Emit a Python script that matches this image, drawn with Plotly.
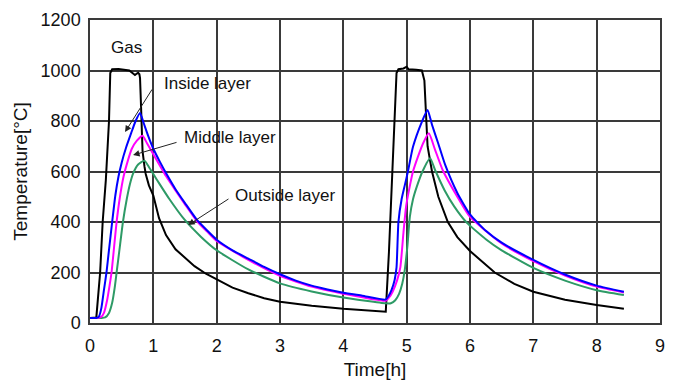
import plotly.graph_objects as go

# ---- data ----
gas_t = [0, 0.1, 0.16, 0.2, 0.25, 0.3, 0.32, 0.35, 0.45, 0.55, 0.62, 0.67, 0.71, 0.74, 0.76, 0.78,
         0.79, 0.8, 0.81, 0.83, 0.86, 0.88, 0.93, 1.0, 1.09, 1.2, 1.35, 1.5, 1.65, 1.83, 2.0, 2.25,
         2.5, 2.75, 3.0, 3.5, 4.0, 4.3, 4.67,
         4.72, 4.76, 4.8, 4.84, 4.87, 4.95, 5.0, 5.03, 5.15, 5.24, 5.28, 5.3, 5.33, 5.4, 5.5, 5.65,
         5.8, 6.0, 6.2, 6.39, 6.7, 7.0, 7.5, 8.0, 8.43]
gas_v = [20, 22, 200, 400, 566, 800, 990, 1005, 1006, 1003, 1000, 990, 982, 988, 991, 985,
         970, 900, 780, 680, 620, 590, 545, 505, 415, 348, 292, 258, 225, 195, 172, 140,
         118, 98, 84, 68, 56, 50, 45,
         280, 500, 760, 990, 1005, 1008, 1015, 1005, 1003, 1000, 960, 850, 700, 600, 500, 400,
         340, 285, 240, 200, 155, 124, 92, 71, 56]

inside_t = [0, 0.1, 0.14, 0.18, 0.22, 0.26, 0.3, 0.35, 0.4, 0.45, 0.5, 0.57, 0.65, 0.72, 0.79,
            0.85, 0.92, 1.0, 1.1, 1.22, 1.35, 1.5, 1.69, 1.85, 2.0, 2.25, 2.5, 2.75, 3.0, 3.25,
            3.5, 3.75, 4.0, 4.3, 4.67,
            4.71, 4.76, 4.81, 4.84, 4.87, 4.92, 4.97, 5.02, 5.1, 5.24, 5.33,
            5.4, 5.5, 5.61, 5.8, 6.0, 6.25, 6.5, 7.0, 7.5, 8.0, 8.43]
inside_v = [20, 20, 25, 60, 130, 200, 290, 400, 505, 580, 635, 695, 752, 800, 832,
            790, 740, 690, 640, 585, 530, 475, 408, 366, 330, 288, 255, 222, 193, 168,
            148, 133, 120, 108, 93,
            105, 130, 170, 220, 400, 490, 545, 600, 698, 797, 844,
            785, 710, 625, 515, 430, 365, 318, 250, 192, 148, 124]

middle_t = [0, 0.12, 0.18, 0.22, 0.27, 0.31, 0.34, 0.38, 0.42, 0.47, 0.53, 0.6, 0.66, 0.74, 0.83,
            0.9, 1.0, 1.1, 1.2, 1.35, 1.5, 1.69, 1.85, 2.0, 2.5, 3.0, 3.5, 4.0, 4.67,
            4.72, 4.78, 4.85, 4.9, 4.95, 4.99, 5.04, 5.1, 5.18, 5.26, 5.35,
            5.45, 5.57, 5.8, 6.0, 6.5, 7.0, 7.5, 8.0, 8.43]
middle_v = [20, 20, 25, 40, 90, 150, 200, 300, 400, 495, 580, 645, 690, 722, 742,
            712, 668, 625, 582, 525, 470, 403, 362, 325, 250, 187, 144, 116, 88,
            100, 125, 170, 220, 360, 460, 530, 600, 660, 712, 751,
            685, 605, 500, 420, 315, 245, 188, 144, 121]

outside_t = [0, 0.18, 0.24, 0.3, 0.35, 0.39, 0.42, 0.47, 0.52, 0.58, 0.63, 0.68, 0.76, 0.86,
             0.93, 1.0, 1.1, 1.25, 1.49, 1.75, 2.0, 2.5, 3.0, 3.5, 4.0, 4.67,
             4.75, 4.82, 4.88, 4.93, 4.97, 5.01, 5.05, 5.1, 5.16, 5.25, 5.37,
             5.45, 5.6, 5.75, 5.94, 6.25, 6.5, 7.0, 7.5, 8.0, 8.43]
outside_v = [20, 20, 22, 40, 80, 140, 200, 300, 400, 490, 550, 592, 628, 643,
             618, 590, 550, 492, 410, 342, 288, 212, 157, 125, 101, 78,
             78, 90, 115, 155, 210, 300, 420, 490, 540, 600, 652,
             605, 525, 462, 400, 332, 288, 218, 168, 130, 111]

x_ticks = [0, 1, 2, 3, 4, 5, 6, 7, 8, 9]
y_ticks = [0, 200, 400, 600, 800, 1000, 1200]

series = [
    ("Gas", gas_t, gas_v, "#000000", "linear"),
    ("Outside layer", outside_t, outside_v, "#2e9a66", "spline"),
    ("Middle layer", middle_t, middle_v, "#ff00ff", "spline"),
    ("Inside layer", inside_t, inside_v, "#0000ff", "spline"),
]

fig = go.Figure()
for name, t, v, c, shape in series:
    fig.add_trace(go.Scatter(x=t, y=v, mode="lines", name=name,
                             line=dict(color=c, width=2, shape=shape, smoothing=0.5),
                             showlegend=False))

font = "Liberation Sans, Arial, sans-serif"
grid = "#3a3a3a"

# text labels
labels = [("Gas", 0.58, 1093, "center"),
          ("Inside layer", 1.137, 950, "left"),
          ("Middle layer", 1.45, 733, "left"),
          ("Outside layer", 2.26, 504, "left")]
for txt, x, y, anchor in labels:
    fig.add_annotation(x=x, y=y, text=txt, showarrow=False, xanchor=anchor,
                       yanchor="middle", font=dict(size=17, color="#111", family=font))

# arrows (head, tail)
arrows = [((0.553, 756), (0.995, 931)),
          ((0.68, 665), (1.39, 717)),
          ((1.55, 388), (2.21, 495))]
for (hx, hy), (tx, ty) in arrows:
    fig.add_annotation(x=hx, y=hy, ax=tx, ay=ty, xref="x", yref="y", axref="x", ayref="y",
                       text="", showarrow=True, arrowhead=2, arrowsize=1.3, arrowwidth=1,
                       arrowcolor="#222")

fig.update_layout(
    width=678, height=382,
    margin=dict(l=90, r=18, t=20, b=59),
    paper_bgcolor="white", plot_bgcolor="white",
    font=dict(family=font, color="#111"),
)
fig.update_xaxes(range=[0, 9], tickvals=x_ticks, showgrid=True, gridcolor=grid, gridwidth=1.5,
                 showline=True, linecolor=grid, linewidth=1.5, mirror=True, zeroline=False,
                 ticks="", tickfont=dict(size=18), ticklabelstandoff=6, automargin=False,
                 title=dict(text="Time[h]", font=dict(size=19), standoff=7))
fig.update_yaxes(range=[0, 1200], tickvals=y_ticks, showgrid=True, gridcolor=grid, gridwidth=1.5,
                 showline=True, linecolor=grid, linewidth=1.5, mirror=True, zeroline=False,
                 ticks="", tickfont=dict(size=18), ticklabelstandoff=4, automargin=False,
                 title=dict(text="Temperature[°C]", font=dict(size=19), standoff=8))

fig.write_html("out.html", config={"displayModeBar": False},
               post_script="document.body.style.margin='0';document.body.style.padding='0';")
